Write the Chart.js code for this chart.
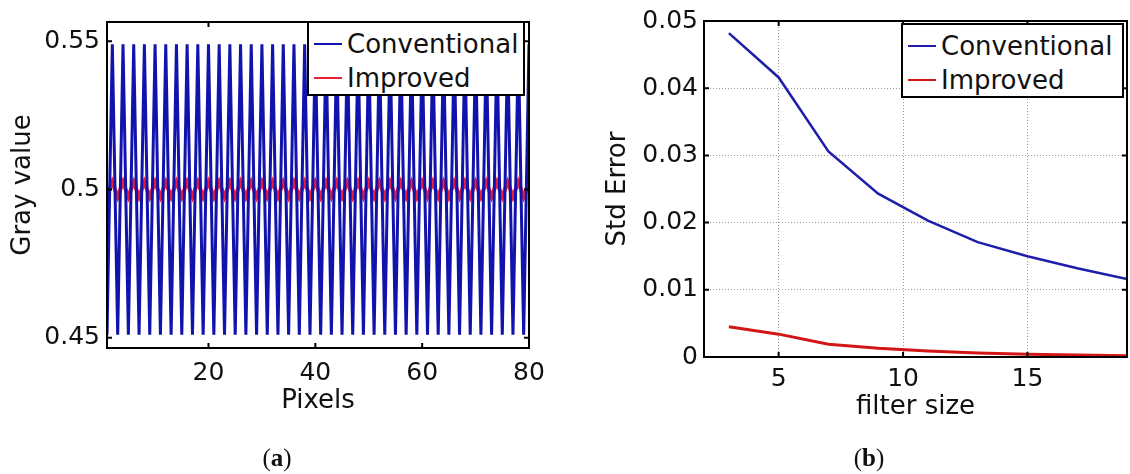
<!DOCTYPE html>
<html>
<head>
<meta charset="utf-8">
<script src="https://cdn.jsdelivr.net/npm/chart.js@4.4.0/dist/chart.umd.min.js"></script>
<style>
body { margin: 0; background: #fff; width: 1130px; height: 474px; position: relative; overflow: hidden; font-family: "DejaVu Sans", sans-serif; }
.wrap { position: absolute; top: 0; height: 474px; }
.legend { position: absolute; box-sizing: border-box; border: 2px solid #000; background: #fff; z-index: 2; }
.legend .row { position: absolute; left: 5px; height: 30px; display: flex; align-items: center; font-size: 26px; color: #111; white-space: nowrap; }
.legend .swatch { width: 28px; height: 2px; margin-right: 5px; }
.cap { position: absolute; top: 444px; width: 80px; text-align: center; font-family: "Liberation Serif", serif; font-size: 25px; line-height: 28px; color: #111; }
</style>
</head>
<body>
<div class="wrap" style="left:0;width:560px"><canvas id="chartA"></canvas></div>
<div class="wrap" style="left:560px;width:570px"><canvas id="chartB"></canvas></div>
<div class="legend" id="legA" style="left:307px;top:21px;width:218px;height:75px"></div>
<div class="legend" id="legB" style="left:901px;top:23px;width:223px;height:75px"></div>
<div class="cap" style="left:237px">(<b>a</b>)</div>
<div class="cap" style="left:829px">(<b>b</b>)</div>
<script>
// (a) gray value along a line of pixels
const pixels = [1,2,3,4,5,6,7,8,9,10,11,12,13,14,15,16,17,18,19,20,
  21,22,23,24,25,26,27,28,29,30,31,32,33,34,35,36,37,38,39,40,
  41,42,43,44,45,46,47,48,49,50,51,52,53,54,55,56,57,58,59,60,
  61,62,63,64,65,66,67,68,69,70,71,72,73,74,75,76,77,78,79,80]
const grayConventional = [
  0.451,0.549,0.451,0.549,0.451,0.549,0.451,0.549,0.451,0.549,
  0.451,0.549,0.451,0.549,0.451,0.549,0.451,0.549,0.451,0.549,
  0.451,0.549,0.451,0.549,0.451,0.549,0.451,0.549,0.451,0.549,
  0.451,0.549,0.451,0.549,0.451,0.549,0.451,0.549,0.451,0.549,
  0.451,0.549,0.451,0.549,0.451,0.549,0.451,0.549,0.451,0.549,
  0.451,0.549,0.451,0.549,0.451,0.549,0.451,0.549,0.451,0.549,
  0.451,0.549,0.451,0.549,0.451,0.549,0.451,0.549,0.451,0.549,
  0.451,0.549,0.451,0.549,0.451,0.549,0.451,0.549,0.451,0.549]
const grayImproved = [
  0.4975,0.5025,0.4975,0.5025,0.4975,0.5025,0.4975,0.5025,0.4975,0.5025,
  0.4975,0.5025,0.4975,0.5025,0.4975,0.5025,0.4975,0.5025,0.4975,0.5025,
  0.4975,0.5025,0.4975,0.5025,0.4975,0.5025,0.4975,0.5025,0.4975,0.5025,
  0.4975,0.5025,0.4975,0.5025,0.4975,0.5025,0.4975,0.5025,0.4975,0.5025,
  0.4975,0.5025,0.4975,0.5025,0.4975,0.5025,0.4975,0.5025,0.4975,0.5025,
  0.4975,0.5025,0.4975,0.5025,0.4975,0.5025,0.4975,0.5025,0.4975,0.5025,
  0.4975,0.5025,0.4975,0.5025,0.4975,0.5025,0.4975,0.5025,0.4975,0.5025,
  0.4975,0.5025,0.4975,0.5025,0.4975,0.5025,0.4975,0.5025,0.4975,0.5025]
const pixelTicks = [20, 40, 60, 80]
const grayTicks = [0.45, 0.5, 0.55]

// (b) std error against filter size
const filterSizes = [3, 5, 7, 9, 11, 13, 15, 17, 19]
const errConventional = [0.0482, 0.0416, 0.0306, 0.0243, 0.0203, 0.0171, 0.0150, 0.0132, 0.0116]
const errImproved = [0.0045, 0.0034, 0.0019, 0.0013, 0.0009, 0.0006, 0.0004, 0.0003, 0.0002]
const filterTicks = [5, 10, 15]
const errTicks = [0, 0.01, 0.02, 0.03, 0.04, 0.05]

const seriesNames = ['Conventional', 'Improved']

Chart.defaults.font.family = '"DejaVu Sans", sans-serif'
Chart.defaults.color = '#111'
Chart.defaults.animation = false

// matlab style box with inward ticks
const boxFrame = {
  id: 'boxFrame',
  afterDatasetsDraw(chart) {
    const {ctx, chartArea: a, scales: {x, y}} = chart
    ctx.save()
    ctx.strokeStyle = '#000'
    ctx.lineWidth = 2
    ctx.beginPath()
    x.ticks.forEach(t => {
      let px = x.getPixelForValue(t.value)
      ctx.moveTo(px, a.bottom); ctx.lineTo(px, a.bottom - 5)
      ctx.moveTo(px, a.top); ctx.lineTo(px, a.top + 5)
    })
    y.ticks.forEach(t => {
      let py = y.getPixelForValue(t.value)
      ctx.moveTo(a.left, py); ctx.lineTo(a.left + 5, py)
      ctx.moveTo(a.right, py); ctx.lineTo(a.right - 5, py)
    })
    ctx.stroke()
    ctx.strokeRect(a.left, a.top, a.right - a.left, a.bottom - a.top)
    ctx.restore()
  }
}

function axisX(min, max, ticks, title, tickPad, titlePad, grid) {
  return {
    type: 'linear', min: min, max: max,
    afterBuildTicks: s => { s.ticks = ticks.map(v => ({value: v})) },
    afterFit: s => { s.height = 70 },
    ticks: {font: {size: 25}, padding: tickPad, maxRotation: 0, callback: v => String(v)},
    grid: grid,
    border: {display: false, dash: [1, 2]},
    title: {display: true, text: title, font: {size: 26, lineHeight: 1}, padding: {top: 0, bottom: titlePad}}
  }
}

function axisY(min, max, ticks, title, width, tickPad, titlePad, grid) {
  return {
    min: min, max: max,
    afterBuildTicks: s => { s.ticks = ticks.map(v => ({value: v})) },
    afterFit: s => { s.width = width },
    ticks: {font: {size: 25}, padding: tickPad, callback: v => String(v)},
    grid: grid,
    border: {display: false, dash: [1, 2]},
    title: {display: true, text: title, font: {size: 26, lineHeight: 1}, padding: {top: titlePad, bottom: 0}}
  }
}

function buildLegend(id, chart) {
  const box = document.getElementById(id)
  chart.data.datasets.forEach((ds, i) => {
    const row = document.createElement('div')
    row.className = 'row'
    row.style.top = (6 + i * 34) + 'px'
    const sw = document.createElement('span')
    sw.className = 'swatch'
    sw.style.background = ds.borderColor
    row.appendChild(sw)
    row.appendChild(document.createTextNode(ds.label))
    box.appendChild(row)
  })
}

const noGrid = {display: false, drawTicks: false}
const dotGrid = {color: '#9a9a9a', lineWidth: 1, drawTicks: false}

const chartA = new Chart(document.getElementById('chartA'), {
  type: 'line',
  data: {
    labels: pixels,
    datasets: [
      {label: seriesNames[0], data: grayConventional, borderColor: 'rgb(18,18,172)', borderWidth: 3, pointRadius: 0, tension: 0},
      {label: seriesNames[1], data: grayImproved, borderColor: 'rgb(236,30,52)', borderWidth: 4, pointRadius: 0, tension: 0}
    ]
  },
  options: {
    responsive: true, maintainAspectRatio: false,
    layout: {padding: {left: 0, top: 16, right: 31, bottom: 56}},
    plugins: {legend: {display: false}, tooltip: {enabled: false}},
    scales: {
      x: axisX(1, 80, pixelTicks, 'Pixels', 10, 4, noGrid),
      y: axisY(0.4465, 0.5565, grayTicks, 'Gray value', 107, 7, 10, noGrid)
    }
  },
  plugins: [boxFrame]
})

const chartB = new Chart(document.getElementById('chartB'), {
  type: 'line',
  data: {
    labels: filterSizes,
    datasets: [
      {label: seriesNames[0], data: errConventional, borderColor: 'rgb(30,30,170)', borderWidth: 2.5, pointRadius: 0, tension: 0},
      {label: seriesNames[1], data: errImproved, borderColor: 'rgb(210,22,22)', borderWidth: 3, pointRadius: 0, tension: 0}
    ]
  },
  options: {
    responsive: true, maintainAspectRatio: false,
    layout: {padding: {left: 0, top: 20, right: 3, bottom: 47}},
    plugins: {legend: {display: false}, tooltip: {enabled: false}},
    scales: {
      x: axisX(2, 19, filterTicks, 'filter size', 7, 7, dotGrid),
      y: axisY(0, 0.05, errTicks, 'Std Error', 144, 6, 45, dotGrid)
    }
  },
  plugins: [boxFrame]
})

buildLegend('legA', chartA)
buildLegend('legB', chartB)
</script>
</body>
</html>
